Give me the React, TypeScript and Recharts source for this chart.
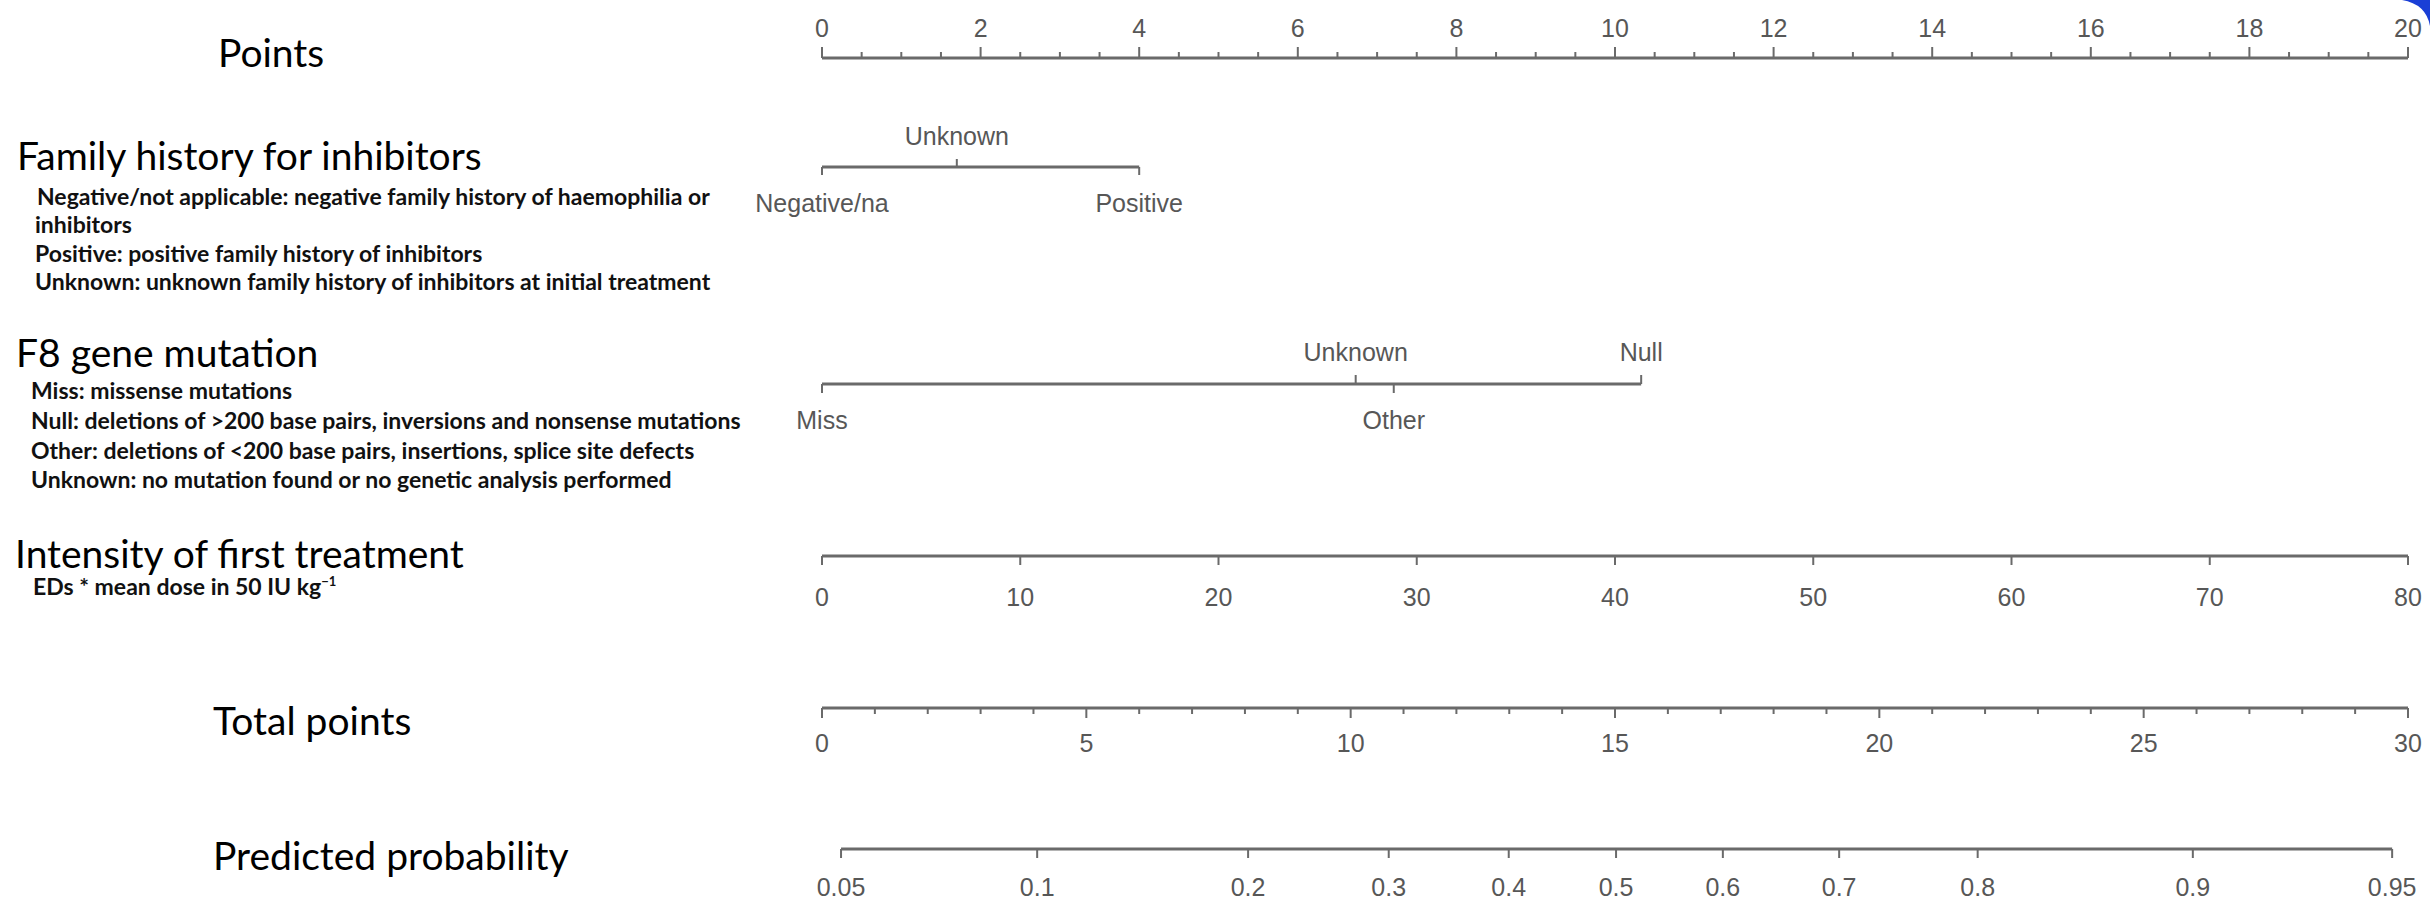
import React from "react";
import { ComposedChart, ReferenceLine, Scatter, XAxis, YAxis } from "recharts";

// top "Points" scale
const pointsMajor = [0, 2, 4, 6, 8, 10, 12, 14, 16, 18, 20];
const pointsStep = 0.5;

// family history for inhibitors (points per level)
const familyLevels = ["Negative/na", "Unknown", "Positive"];
const familyPoints = [0, 1.7, 4];
const familySide = ["down", "up", "down"];

// F8 gene mutation (points per level)
const f8Levels = ["Miss", "Unknown", "Other", "Null"];
const f8Points = [0, 6.73, 7.21, 10.33];
const f8Side = ["down", "up", "down", "up"];

// intensity of first treatment
const intensityTicks = [0, 10, 20, 30, 40, 50, 60, 70, 80];

// total points scale
const totalMajor = [0, 5, 10, 15, 20, 25, 30];
const totalStep = 1;

// predicted probability, placed on the total-points scale
const probLabels = ["0.05", "0.1", "0.2", "0.3", "0.4", "0.5", "0.6", "0.7", "0.8", "0.9", "0.95"];
const probTotal = [0.36, 4.07, 8.06, 10.72, 12.99, 15.02, 17.04, 19.24, 21.86, 25.93, 29.7];

const W = 2430;
const H = 903;
const ROW = { points: 58, family: 167, f8: 384, intensity: 556, total: 708, prob: 849 };

const AXIS = "#6a6a6a";
const TICK_TEXT = "#575757";
const TICK_FONT = "'Liberation Sans', Arial, sans-serif";
const LABEL_FONT = "Lato, 'Open Sans', sans-serif";

type Tick = { x: number; y: number; label?: string; side: "up" | "down"; len: number; dy: number };

const tickShape = (props: any) => {
  const { cx, cy, payload } = props;
  const p = payload as Tick;
  const dir = p.side === "up" ? -1 : 1;
  return (
    <g>
      <line x1={cx} x2={cx} y1={cy} y2={cy + dir * p.len} stroke={AXIS} strokeWidth={2} />
      {p.label != null && (
        <text
          x={cx}
          y={cy + p.dy}
          textAnchor="middle"
          dominantBaseline="central"
          fontFamily={TICK_FONT}
          fontSize={25}
          fill={TICK_TEXT}
        >
          {p.label}
        </text>
      )}
    </g>
  );
};

const steps = (max: number, step: number) =>
  Array.from({ length: Math.round(max / step) + 1 }, (_, i) => i * step);

const pointsTicks: Tick[] = steps(20, pointsStep).map((v) => {
  const major = pointsMajor.includes(v);
  return { x: v, y: ROW.points, side: "up", len: major ? 11 : 6, dy: -30, label: major ? String(v) : undefined };
});

const familyTicks: Tick[] = familyLevels.map((l, i) => ({
  x: familyPoints[i],
  y: ROW.family,
  label: l,
  side: familySide[i] as "up" | "down",
  len: 8,
  dy: familySide[i] === "up" ? -31 : 36,
}));

const f8Ticks: Tick[] = f8Levels.map((l, i) => ({
  x: f8Points[i],
  y: ROW.f8,
  label: l,
  side: f8Side[i] as "up" | "down",
  len: 9,
  dy: f8Side[i] === "up" ? -32 : 36,
}));

const intensityMarks: Tick[] = intensityTicks.map((v) => ({
  x: v,
  y: ROW.intensity,
  label: String(v),
  side: "down",
  len: 9,
  dy: 41,
}));

const totalTicks: Tick[] = steps(30, totalStep).map((v) => {
  const major = totalMajor.includes(v);
  return { x: v, y: ROW.total, side: "down", len: major ? 10 : 6, dy: 35, label: major ? String(v) : undefined };
});

const probTicks: Tick[] = probLabels.map((l, i) => ({
  x: probTotal[i],
  y: ROW.prob,
  label: l,
  side: "down",
  len: 9,
  dy: 38,
}));

const title = (text: string, left: number, y: number) => (
  <div
    key={text}
    style={{
      position: "absolute",
      left,
      top: y,
      transform: "translateY(-50%)",
      fontFamily: LABEL_FONT,
      fontSize: 39,
      lineHeight: 1,
      whiteSpace: "nowrap",
      color: "#000",
    }}
  >
    {text}
  </div>
);

const note = (text: React.ReactNode, left: number, y: number, key: string) => (
  <div
    key={key}
    style={{
      position: "absolute",
      left,
      top: y,
      transform: "translateY(-50%)",
      fontFamily: LABEL_FONT,
      fontWeight: 700,
      fontSize: 23,
      lineHeight: 1,
      whiteSpace: "nowrap",
      color: "#111",
    }}
  >
    {text}
  </div>
);

export default function App() {
  return (
    <div style={{ position: "absolute", left: 0, top: 0, width: W, height: H, background: "#fff", overflow: "hidden" }}>
      <ComposedChart width={W} height={H} margin={{ top: 0, right: 22, bottom: 0, left: 822 }}>
        <XAxis xAxisId="pts" type="number" dataKey="x" domain={[0, 20]} hide />
        <XAxis xAxisId="int" type="number" dataKey="x" domain={[0, 80]} hide />
        <XAxis xAxisId="tot" type="number" dataKey="x" domain={[0, 30]} hide />
        <YAxis type="number" dataKey="y" domain={[0, H]} reversed hide />

        <ReferenceLine xAxisId="pts" segment={[{ x: 0, y: ROW.points }, { x: 20, y: ROW.points }]} stroke={AXIS} strokeWidth={3} />
        <ReferenceLine
          xAxisId="pts"
          segment={[{ x: Math.min(...familyPoints), y: ROW.family }, { x: Math.max(...familyPoints), y: ROW.family }]}
          stroke={AXIS}
          strokeWidth={3}
        />
        <ReferenceLine
          xAxisId="pts"
          segment={[{ x: Math.min(...f8Points), y: ROW.f8 }, { x: Math.max(...f8Points), y: ROW.f8 }]}
          stroke={AXIS}
          strokeWidth={3}
        />
        <ReferenceLine xAxisId="int" segment={[{ x: 0, y: ROW.intensity }, { x: 80, y: ROW.intensity }]} stroke={AXIS} strokeWidth={3} />
        <ReferenceLine xAxisId="tot" segment={[{ x: 0, y: ROW.total }, { x: 30, y: ROW.total }]} stroke={AXIS} strokeWidth={3} />
        <ReferenceLine
          xAxisId="tot"
          segment={[{ x: probTotal[0], y: ROW.prob }, { x: probTotal[probTotal.length - 1], y: ROW.prob }]}
          stroke={AXIS}
          strokeWidth={3}
        />

        <Scatter xAxisId="pts" data={pointsTicks} shape={tickShape} isAnimationActive={false} />
        <Scatter xAxisId="pts" data={familyTicks} shape={tickShape} isAnimationActive={false} />
        <Scatter xAxisId="pts" data={f8Ticks} shape={tickShape} isAnimationActive={false} />
        <Scatter xAxisId="int" data={intensityMarks} shape={tickShape} isAnimationActive={false} />
        <Scatter xAxisId="tot" data={totalTicks} shape={tickShape} isAnimationActive={false} />
        <Scatter xAxisId="tot" data={probTicks} shape={tickShape} isAnimationActive={false} />
      </ComposedChart>

      {title("Points", 218, 52)}
      {title("Family history for inhibitors", 17, 155)}
      {note("Negative/not applicable: negative family history of haemophilia or", 37, 196, "n1")}
      {note("inhibitors", 35, 224, "n2")}
      {note("Positive: positive family history of inhibitors", 35, 253, "n3")}
      {note("Unknown: unknown family history of inhibitors at initial treatment", 35, 281, "n4")}
      {title("F8 gene mutation", 16, 352)}
      {note("Miss: missense mutations", 31, 390, "m1")}
      {note("Null: deletions of >200 base pairs, inversions and nonsense mutations", 31, 420, "m2")}
      {note("Other: deletions of <200 base pairs, insertions, splice site defects", 31, 450, "m3")}
      {note("Unknown: no mutation found or no genetic analysis performed", 31, 479, "m4")}
      {title("Intensity of first treatment", 15, 553)}
      {note(
        <>
          EDs * mean dose in 50 IU kg<sup style={{ fontSize: 13 }}>−1</sup>
        </>,
        33,
        586,
        "e1"
      )}
      {title("Total points", 213, 720)}
      {title("Predicted probability", 213, 855)}

      <svg width={40} height={30} style={{ position: "absolute", right: 0, top: 0 }}>
        <path d="M12 0 Q36 4 40 26 L40 0 Z" fill="#1a3fd6" />
      </svg>
    </div>
  );
}
